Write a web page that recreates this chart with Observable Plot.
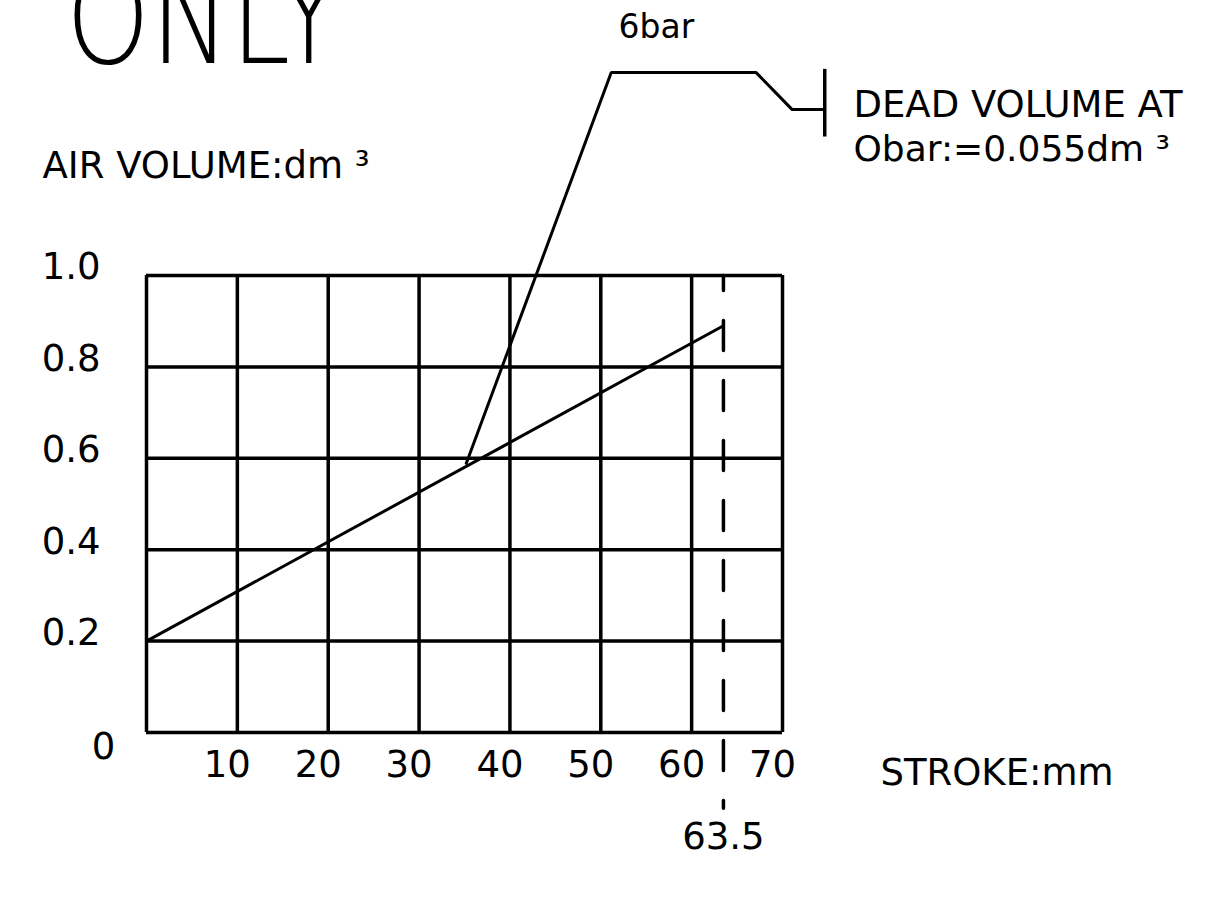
<!DOCTYPE html>
<html>
<head>
<meta charset="utf-8">
<script src="https://cdn.jsdelivr.net/npm/d3@7"></script>
<script src="https://cdn.jsdelivr.net/npm/@observablehq/plot@0.6"></script>
<style>
  html, body { margin: 0; padding: 0; background: #fff; }
  #chart svg { display: block; }
</style>
</head>
<body>
<div id="chart"></div>
<script>
// ---- data ----
const xGridValues = [0, 10, 20, 30, 40, 50, 60, 70];          // STROKE: mm
const yGridValues = [0, 0.2, 0.4, 0.6, 0.8, 1.0];             // AIR VOLUME: dm3
const xTickValues = [10, 20, 30, 40, 50, 60, 70];
const xTickLabels = ["10", "20", "30", "40", "50", "60", "70"];
const yTickValues = [0.2, 0.4, 0.6, 0.8, 1.0];
const yTickLabels = ["0.2", "0.4", "0.6", "0.8", "1.0"];
const originLabel = ["0"];

// air volume vs stroke (6 bar)
const strokeMm = [0, 63.5];
const airVolume = [0.2, 0.89];

// full stroke marker
const fullStroke = 63.5;
const fullStrokeSpan = [1.0, -0.166];

// leader line from the 6bar curve to the dead volume note
const leaderX = [35.2, 51.15, 67.1, 71.07, 74.65];
const leaderY = [0.589, 1.444, 1.444, 1.363, 1.363];
const leaderBarX = 74.65;
const leaderBarY = [1.303, 1.451];

const titleText = ["ONLY"];
const yAxisTitle = ["AIR VOLUME:dm ³"];
const xAxisTitle = ["STROKE:mm"];
const pressureLabel = ["6bar"];
const deadVolumeNote = ["DEAD VOLUME AT", "Obar:=0.055dm ³"];
const fullStrokeLabel = ["63.5"];

// ---- build tables ----
const volumeLine = strokeMm.map((s, i) => ({stroke: s, volume: airVolume[i]}));
const fullStrokeLine = fullStrokeSpan.map(v => ({stroke: fullStroke, volume: v}));
const leader = leaderX.map((x, i) => ({stroke: x, volume: leaderY[i]}));
const xTicks = xTickValues.map((v, i) => ({v, label: xTickLabels[i]}));
const yTicks = yTickValues.map((v, i) => ({v, label: yTickLabels[i]}));

const FONT = "DejaVu Sans";
const FS = 37;
const SW = 3.5;

const plot = Plot.plot({
  width: 1209,
  height: 899,
  marginLeft: 146,
  marginRight: 427,
  marginTop: 275,
  marginBottom: 167,
  style: {background: "#fff", color: "#000", fontFamily: FONT},
  x: {domain: [0, 70], axis: null},
  y: {domain: [0, 1], axis: null},
  marks: [
    Plot.ruleX(xGridValues, {x: d => d, y1: 0, y2: 1, stroke: "#000", strokeWidth: SW}),
    Plot.ruleY(yGridValues, {y: d => d, x1: 0, x2: 70, stroke: "#000", strokeWidth: SW}),
    Plot.line(volumeLine, {x: "stroke", y: "volume", stroke: "#000", strokeWidth: 3}),
    Plot.line(fullStrokeLine, {x: "stroke", y: "volume", stroke: "#000", strokeWidth: SW,
      strokeDasharray: "30,30", strokeDashoffset: 15}),
    Plot.line(leader, {x: "stroke", y: "volume", stroke: "#000", strokeWidth: 3, strokeLinejoin: "miter"}),
    Plot.ruleX([leaderBarX], {x: d => d, y1: leaderBarY[0], y2: leaderBarY[1], stroke: "#000", strokeWidth: SW}),

    // tick labels
    Plot.text(yTicks, {x: () => 0, y: "v", text: "label", dx: -46, dy: -8, textAnchor: "end",
      lineAnchor: "middle", fontSize: FS, fontFamily: FONT, fill: "#000"}),
    Plot.text(originLabel, {x: () => 0, y: () => 0, text: d => d, dx: -43, dy: 15, textAnchor: "middle",
      lineAnchor: "middle", fontSize: FS, fontFamily: FONT, fill: "#000"}),
    Plot.text(xTicks, {x: "v", y: () => 0, text: "label", dx: -10, dy: 33, textAnchor: "middle",
      lineAnchor: "middle", fontSize: FS, fontFamily: FONT, fill: "#000"}),

    // titles and notes
    Plot.text(titleText, {x: () => -8.9, y: () => 1.4639, text: d => d, textAnchor: "start",
      lineAnchor: "bottom", fontSize: 132, fontWeight: 200, fontFamily: FONT, fill: "#000"}),
    Plot.text(yAxisTitle, {x: () => -11.45, y: () => 1.2123, text: d => d, textAnchor: "start",
      lineAnchor: "bottom", fontSize: FS, fontFamily: FONT, fill: "#000"}),
    Plot.text(xAxisTitle, {x: () => 80.78, y: () => -0.1138, text: d => d, textAnchor: "start",
      lineAnchor: "bottom", fontSize: FS, fontFamily: FONT, fill: "#000"}),
    Plot.text(pressureLabel, {x: () => 51.95, y: () => 1.5186, text: d => d, textAnchor: "start",
      lineAnchor: "bottom", fontSize: 33, fontFamily: FONT, fill: "#000"}),
    Plot.text([deadVolumeNote[0]], {x: () => 77.81, y: () => 1.3464, text: d => d, textAnchor: "start",
      lineAnchor: "bottom", fontSize: FS, fontFamily: FONT, fill: "#000"}),
    Plot.text([deadVolumeNote[1]], {x: () => 77.81, y: () => 1.2516, text: d => d, textAnchor: "start",
      lineAnchor: "bottom", fontSize: 36, fontFamily: FONT, fill: "#000"}),
    Plot.text(fullStrokeLabel, {x: () => fullStroke, y: () => -0.256, text: d => d, textAnchor: "middle",
      lineAnchor: "bottom", fontSize: FS, fontFamily: FONT, fill: "#000"})
  ]
});

document.getElementById("chart").appendChild(plot);

// condense the big title to the width it has in the drawing
d3.select(plot).selectAll("text").each(function() {
  if (this.textContent === "ONLY") {
    this.setAttribute("textLength", 276);
    this.setAttribute("lengthAdjust", "spacingAndGlyphs");
  }
});
</script>
</body>
</html>
